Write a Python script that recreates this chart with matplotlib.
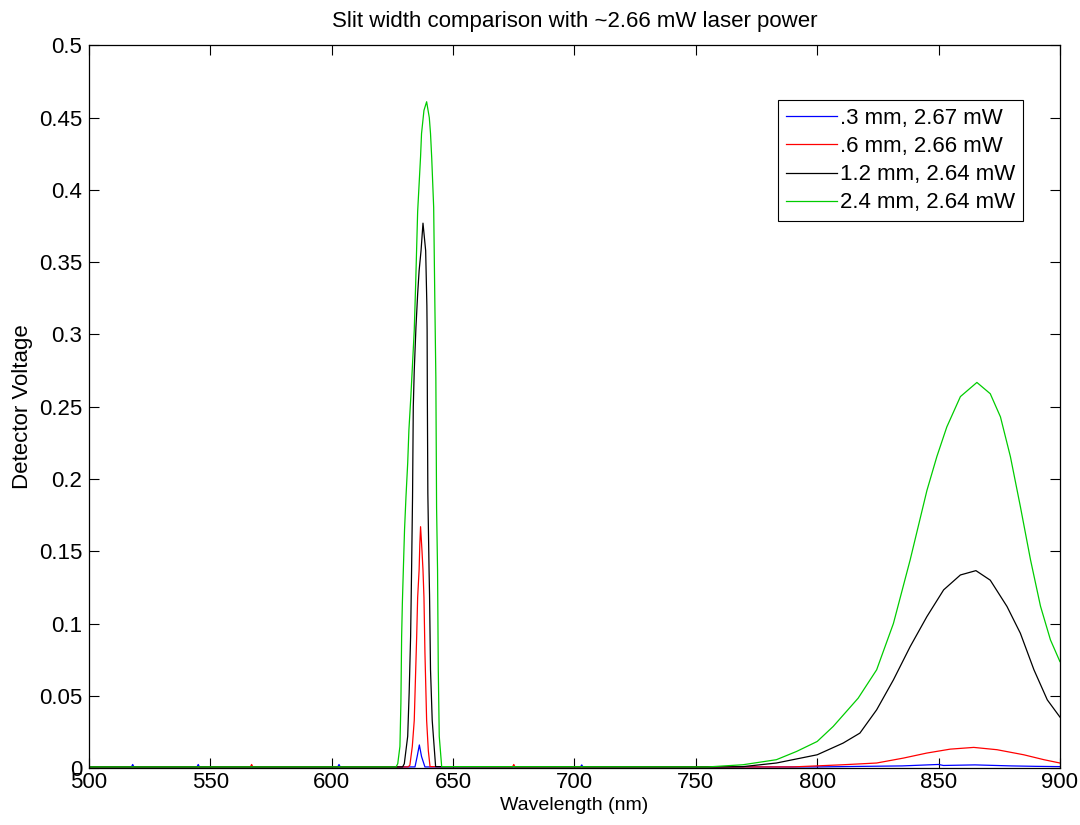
import matplotlib
matplotlib.use("Agg")
import matplotlib.pyplot as plt

plt.rcParams['font.family'] = ['Liberation Sans', 'DejaVu Sans']

# data (wavelength in nm, detector voltage in V)
wl_03 = [500, 517.5, 518, 518.5, 544.5, 545, 545.5, 602.5, 603, 603.5, 634.3, 635.2, 636.1,
         637.0, 638.4, 702.5, 703, 703.5, 800, 820, 835, 850, 852, 865, 880, 890, 900]
v_03 = [0.0008, 0.0008, 0.0025, 0.0008, 0.0008, 0.0025, 0.0008, 0.0008, 0.0025, 0.0008, 0.0008,
        0.008, 0.016, 0.008, 0.0008, 0.0008, 0.0022, 0.0008, 0.0008, 0.0012, 0.0015, 0.0025,
        0.0018, 0.0022, 0.0015, 0.0012, 0.001]

wl_06 = [500, 566.5, 567, 567.5, 631.5, 632.2, 633.2, 634.0, 634.6, 635.0, 635.4, 636.0, 636.3,
         636.6, 637.2, 637.6, 638.0, 638.4, 639.1, 639.8, 640.5, 674.5, 675, 675.5, 790, 810.7,
         824.5, 835.5, 845.2, 854.8, 864.5, 874.1, 885.1, 893.4, 900]
v_06 = [0.0008, 0.0008, 0.0025, 0.0008, 0.0008, 0.002, 0.015, 0.033, 0.068, 0.091, 0.118,
        0.137, 0.155, 0.167, 0.15, 0.137, 0.118, 0.08, 0.033, 0.012, 0.001, 0.0008, 0.0025,
        0.0008, 0.0008, 0.0023, 0.0035, 0.0069, 0.0104, 0.0131, 0.0143, 0.0127, 0.0092,
        0.0058, 0.0035]

wl_12 = [500, 629.2, 629.9, 631.3, 631.9, 632.5, 632.9, 633.3, 633.6, 634.0, 634.7, 635.4,
         636.0, 636.8, 637.6, 638.7, 639.2, 639.3, 639.4, 639.6, 640.1, 640.3, 640.7, 641.4,
         642.8, 760, 769.4, 783.2, 800, 810.7, 817.6, 824.5, 831.4, 838.3, 845.2, 852.1, 859.0,
         865.4, 871.3, 878.2, 883.7, 889.3, 894.8, 900]
v_12 = [0.0008, 0.0008, 0.003, 0.022, 0.052, 0.091, 0.137, 0.188, 0.25, 0.275, 0.305, 0.328,
        0.344, 0.358, 0.377, 0.358, 0.32, 0.303, 0.255, 0.19, 0.137, 0.12, 0.068, 0.033, 0.001,
        0.0008, 0.001, 0.0035, 0.0092, 0.0173, 0.0242, 0.0403, 0.061, 0.084, 0.1048, 0.1233,
        0.1336, 0.1366, 0.130, 0.1118, 0.0933, 0.068, 0.0472, 0.0353]

wl_24 = [500, 626.5, 627.2, 628.1, 628.5, 628.8, 629.1, 629.5, 630.0, 630.6, 631.3, 631.8,
         632.6, 633.3, 634.0, 634.6, 635.4, 636.0, 636.6, 637.0, 638.0, 639.1, 640.2, 640.7,
         641.2, 642.0, 642.5, 642.9, 643.2, 643.6, 643.8, 643.9, 644.3, 645.3, 755, 769.4,
         783.2, 791.5, 800, 806.6, 816.9, 824.5, 831.4, 838.3, 845.2, 849.3, 853.4, 859.0,
         865.8, 871.3, 875.5, 879.6, 883.7, 887.9, 892.0, 896.1, 900]
v_24 = [0.0008, 0.0008, 0.003, 0.015, 0.045, 0.091, 0.114, 0.137, 0.165, 0.188, 0.211, 0.234,
        0.257, 0.280, 0.303, 0.336, 0.385, 0.404, 0.423, 0.439, 0.455, 0.461, 0.450, 0.439,
        0.422, 0.388, 0.320, 0.27, 0.18, 0.137, 0.09, 0.068, 0.022, 0.001, 0.0008, 0.0023,
        0.0058, 0.0115, 0.0184, 0.0288, 0.0484, 0.068, 0.100, 0.144, 0.192, 0.2155, 0.236,
        0.257, 0.2668, 0.259, 0.243, 0.2155, 0.181, 0.144, 0.112, 0.0887, 0.0737]

labels = ['.3 mm, 2.67 mW', '.6 mm, 2.66 mW', '1.2 mm, 2.64 mW', '2.4 mm, 2.64 mW']
colors = ['#0000ff', '#ff0000', '#000000', '#00cc00']

xticks = [500, 550, 600, 650, 700, 750, 800, 850, 900]
yticks = [0, 0.05, 0.1, 0.15, 0.2, 0.25, 0.3, 0.35, 0.4, 0.45, 0.5]
ytick_labels = ['0', '0.05', '0.1', '0.15', '0.2', '0.25', '0.3', '0.35', '0.4', '0.45', '0.5']

fs = 16

fig = plt.figure(figsize=(10.8, 8.25), dpi=100)
ax = fig.add_axes([0.0824, 0.069, 0.899, 0.876])

series = [(wl_03, v_03), (wl_06, v_06), (wl_12, v_12), (wl_24, v_24)]
for (x, y), lab, c in zip(series, labels, colors):
    ax.plot(x, y, color=c, lw=0.9, label=lab)

ax.set_xlim(500, 900)
ax.set_ylim(0, 0.5)
ax.set_xticks(xticks)
ax.set_xticklabels([str(t) for t in xticks])
ax.set_yticks(yticks)
ax.set_yticklabels(ytick_labels)
ax.tick_params(direction='in', length=7, width=0.8, top=True, right=True, labelsize=fs)
ax.tick_params(axis='y', pad=5)
ax.tick_params(axis='x', pad=3)
for s in ax.spines.values():
    s.set_linewidth(0.9)

ax.set_xlabel('Wavelength (nm)', fontsize=14, labelpad=3)
ax.set_ylabel('Detector Voltage', fontsize=fs, labelpad=4)
ax.set_title('Slit width comparison with ~2.66 mW laser power', fontsize=fs, pad=13)

leg = ax.legend(loc='upper right', bbox_to_anchor=(0.962, 0.924), borderaxespad=0,
                fontsize=fs, fancybox=False, framealpha=1, edgecolor='black',
                handlelength=2.3, handletextpad=0.15, labelspacing=0.32, borderpad=0.35)
leg.get_frame().set_linewidth(0.8)

fig.savefig('out.png', dpi=100)
